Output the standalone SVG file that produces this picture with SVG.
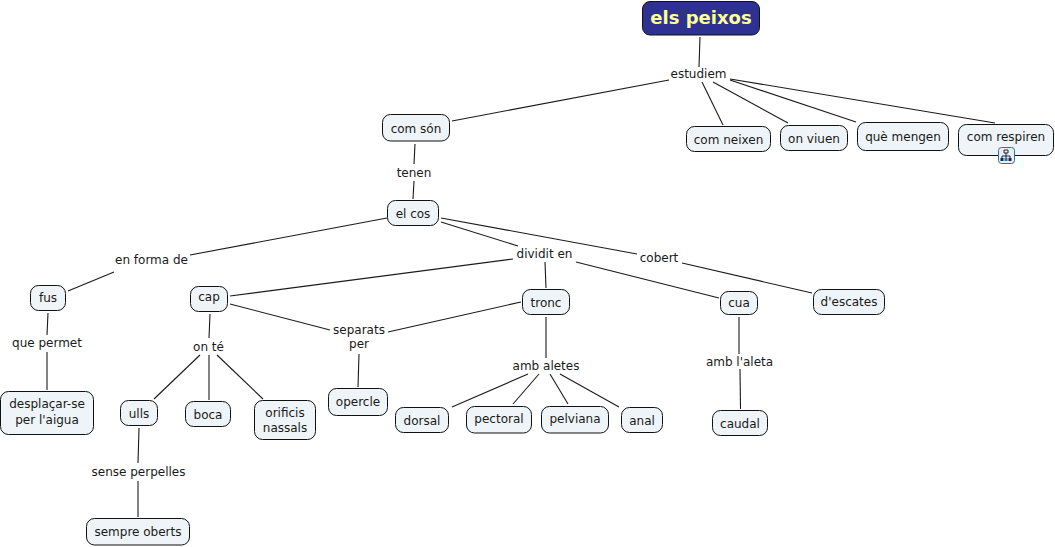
<svg xmlns="http://www.w3.org/2000/svg" width="1055" height="547" viewBox="0 0 1055 547">
<style>
.n{fill:#eef4f7;stroke:#111;stroke-width:1}
.t{font-family:"DejaVu Sans",Verdana,sans-serif;font-size:12px;fill:#1a1a1a;text-anchor:middle}
.c line{stroke:#1a1a1a;stroke-width:1.1}
</style>
<rect width="1055" height="547" fill="#fff"/>
<g class="c" id="connectors">
<line x1="700" y1="37" x2="699" y2="67"/>
<line x1="669" y1="80" x2="452" y2="121"/>
<line x1="702" y1="82" x2="723" y2="125"/>
<line x1="713" y1="82" x2="788" y2="123"/>
<line x1="730" y1="80" x2="856" y2="122"/>
<line x1="730" y1="79" x2="995" y2="123"/>
<line x1="415" y1="144" x2="414" y2="164"/>
<line x1="414" y1="181" x2="413" y2="199"/>
<line x1="387" y1="218" x2="190" y2="255"/>
<line x1="441" y1="222" x2="518" y2="246"/>
<line x1="441" y1="218" x2="637" y2="254"/>
<line x1="114" y1="272" x2="68" y2="291"/>
<line x1="513" y1="259" x2="230" y2="296"/>
<line x1="545" y1="262" x2="546" y2="288"/>
<line x1="576" y1="262" x2="719" y2="298"/>
<line x1="682" y1="263" x2="812" y2="293"/>
<line x1="48" y1="313" x2="47" y2="335"/>
<line x1="47" y1="352" x2="47" y2="390"/>
<line x1="210" y1="314" x2="209" y2="338"/>
<line x1="230" y1="304" x2="330" y2="330"/>
<line x1="521" y1="302" x2="388" y2="332"/>
<line x1="200" y1="355" x2="154" y2="399"/>
<line x1="209" y1="355" x2="209" y2="400"/>
<line x1="217" y1="355" x2="263" y2="399"/>
<line x1="359" y1="354" x2="358" y2="387"/>
<line x1="546" y1="317" x2="546" y2="358"/>
<line x1="528" y1="374" x2="452" y2="407"/>
<line x1="539" y1="374" x2="513" y2="404"/>
<line x1="550" y1="374" x2="568" y2="404"/>
<line x1="560" y1="374" x2="619" y2="407"/>
<line x1="739" y1="317" x2="739" y2="354"/>
<line x1="740" y1="369" x2="740.500" y2="409"/>
<line x1="139" y1="428" x2="138" y2="463"/>
<line x1="138" y1="481" x2="138" y2="517"/>
</g>
<g id="els-peixos"><rect x="642.500" y="1.500" width="117" height="33.500" rx="7.500" fill="#2e3192" stroke="#111"/><text x="701" y="23.500" style="font-family:'DejaVu Sans',Verdana,sans-serif;font-size:18px;font-weight:700;fill:#ffff99;text-anchor:middle">els peixos</text></g>
<g id="l-estudiem"><text class="t" x="698.500" y="78">estudiem</text></g>
<g id="com-son"><rect class="n" x="382.500" y="114.500" width="67" height="26.500" rx="8"/><text class="t" x="416" y="132.500">com són</text></g>
<g id="com-neixen"><rect class="n" x="686.500" y="126.500" width="84" height="25" rx="8"/><text class="t" x="728.500" y="144">com neixen</text></g>
<g id="on-viuen"><rect class="n" x="780.500" y="125.500" width="67" height="25" rx="8"/><text class="t" x="814" y="143">on viuen</text></g>
<g id="que-mengen"><rect class="n" x="857.500" y="122.500" width="91" height="28" rx="8"/><text class="t" x="903" y="141">què mengen</text></g>
<g id="com-respiren"><rect class="n" x="958.500" y="124.500" width="95" height="31" rx="8"/><text class="t" x="1006" y="141">com respiren</text>
<rect x="998.500" y="147.500" width="16" height="16" rx="3" fill="#e4f0fa" stroke="#2a6fb0"/><path d="M1004 150h4v3h-4zM1006 153v3M1002 156h8M1002 156v2M1010 156v2M1006 156v2" fill="none" stroke="#223" stroke-width="1"/><rect x="1000.500" y="158" width="3" height="3" fill="#223"/><rect x="1004.500" y="158" width="3" height="3" fill="#2a6fb0"/><rect x="1008.500" y="158" width="3" height="3" fill="#223"/></g>
<g id="l-tenen"><text class="t" x="414" y="176.500">tenen</text></g>
<g id="el-cos"><rect class="n" x="387.500" y="200.500" width="51" height="25" rx="8"/><text class="t" x="413" y="217.500">el cos</text></g>
<g id="l-en-forma-de"><text class="t" x="151.500" y="264">en forma de</text></g>
<g id="l-dividit-en"><text class="t" x="544.500" y="258">dividit en</text></g>
<g id="l-cobert"><text class="t" x="659" y="262">cobert</text></g>
<g id="fus"><rect class="n" x="30.500" y="285.500" width="35" height="25" rx="8"/><text class="t" x="48" y="302">fus</text></g>
<g id="cap"><rect class="n" x="190.500" y="286.500" width="37" height="25" rx="8"/><text class="t" x="209" y="301">cap</text></g>
<g id="tronc"><rect class="n" x="522.500" y="289.500" width="47" height="25" rx="8"/><text class="t" x="546" y="306.500">tronc</text></g>
<g id="cua"><rect class="n" x="720.500" y="291.500" width="37" height="23" rx="8"/><text class="t" x="739" y="307">cua</text></g>
<g id="d-escates"><rect class="n" x="813.500" y="289.500" width="71" height="25" rx="8"/><text class="t" x="849" y="306">d'escates</text></g>
<g id="l-que-permet"><text class="t" x="47" y="346.500">que permet</text></g>
<g id="l-on-te"><text class="t" x="208.500" y="351">on té</text></g>
<g id="l-separats-per"><text class="t" x="359" y="333.500">separats</text><text class="t" x="359" y="348">per</text></g>
<g id="l-amb-aletes"><text class="t" x="546" y="369.500">amb aletes</text></g>
<g id="l-amb-laleta"><text class="t" x="739.500" y="365.500">amb l'aleta</text></g>
<g id="desplacar"><rect class="n" x="0.500" y="391.500" width="93" height="43" rx="8"/><text class="t" x="47" y="408">desplaçar-se</text><text class="t" x="47" y="424">per l'aigua</text></g>
<g id="ulls"><rect class="n" x="120.500" y="400.500" width="37" height="25" rx="8"/><text class="t" x="139" y="417.500">ulls</text></g>
<g id="boca"><rect class="n" x="185.500" y="401.500" width="45" height="25" rx="8"/><text class="t" x="208" y="418.500">boca</text></g>
<g id="orificis"><rect class="n" x="254.500" y="400.500" width="61" height="39" rx="8"/><text class="t" x="285" y="417">orificis</text><text class="t" x="285" y="432">nassals</text></g>
<g id="opercle"><rect class="n" x="328.500" y="388.500" width="59" height="27" rx="8"/><text class="t" x="358" y="405.500">opercle</text></g>
<g id="dorsal"><rect class="n" x="395.500" y="407.500" width="53" height="25" rx="8"/><text class="t" x="422" y="424.500">dorsal</text></g>
<g id="pectoral"><rect class="n" x="466.500" y="406.500" width="65" height="26.500" rx="8"/><text class="t" x="499" y="423">pectoral</text></g>
<g id="pelviana"><rect class="n" x="541.500" y="406.500" width="67" height="26.500" rx="8"/><text class="t" x="575" y="423">pelviana</text></g>
<g id="anal"><rect class="n" x="621.500" y="407.500" width="41" height="25" rx="8"/><text class="t" x="642" y="424.500">anal</text></g>
<g id="caudal"><rect class="n" x="712.500" y="410.500" width="55" height="25" rx="8"/><text class="t" x="740" y="427.500">caudal</text></g>
<g id="l-sense-perpelles"><text class="t" x="138.500" y="475.500">sense perpelles</text></g>
<g id="sempre-oberts"><rect class="n" x="86.500" y="518.500" width="103" height="26.500" rx="8"/><text class="t" x="138" y="535.500">sempre oberts</text></g>
</svg>
